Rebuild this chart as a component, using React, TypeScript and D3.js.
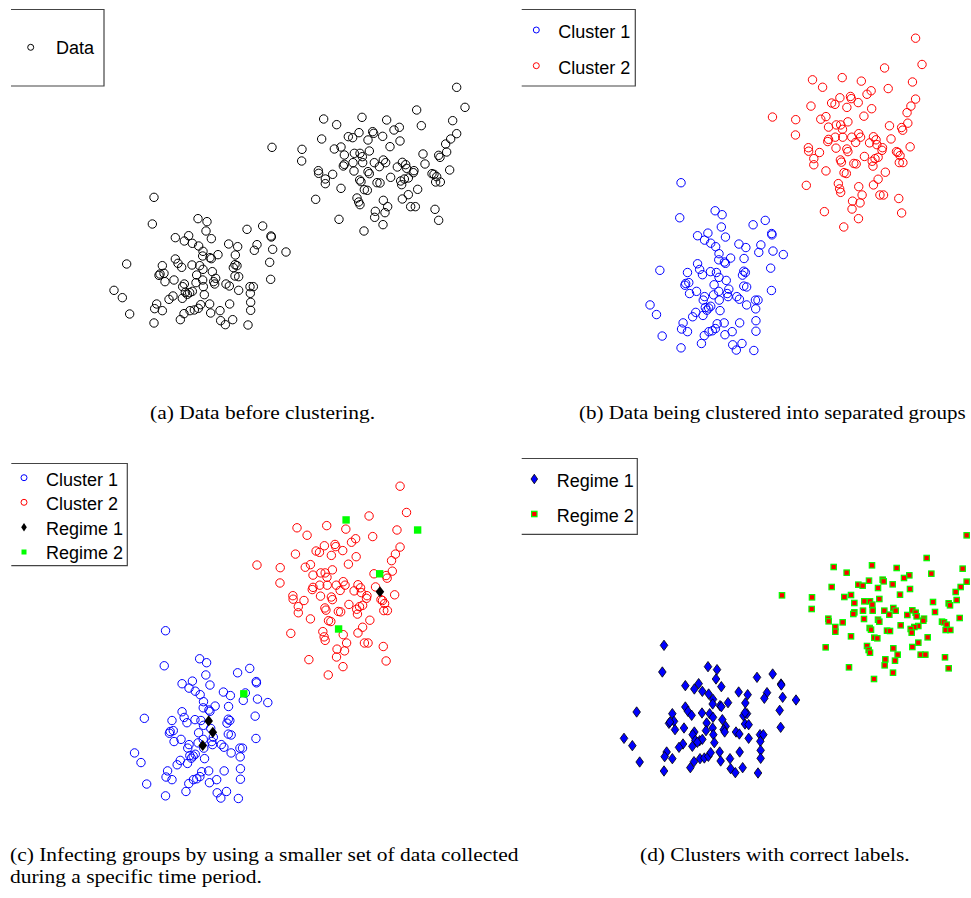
import React, { useRef, useEffect } from "react";
import { select, scaleLinear } from "d3";

// points (arbitrary units, same data in every panel)
const clusterOne: [number, number][] = [
  [462, 408], [457, 328], [594, 344], [621, 335], [618, 307], [634, 284], [526, 287], [566, 293],
  [553, 277], [577, 270], [596, 262], [741, 312], [788, 322], [813, 292], [814, 289], [686, 268],
  [713, 260], [771, 266], [763, 249], [818, 252], [858, 244], [609, 246], [608, 232], [630, 227],
  [654, 236], [706, 235], [634, 224], [380, 208], [487, 203], [526, 223], [534, 210], [545, 198],
  [576, 205], [599, 203], [609, 192], [700, 197], [711, 203], [705, 206], [809, 213], [492, 180],
  [477, 174], [480, 178], [495, 155], [522, 160], [590, 175], [637, 185], [647, 165], [641, 155],
  [644, 148], [608, 160], [588, 152], [610, 140], [553, 148], [548, 140], [678, 148], [688, 142],
  [705, 172], [716, 170], [812, 162], [750, 140], [760, 140], [716, 129], [751, 120], [556, 123],
  [569, 122], [577, 126], [562, 117], [547, 105], [519, 112], [507, 102], [613, 116], [342, 129],
  [367, 107], [389, 58], [470, 88], [464, 74], [487, 68], [462, 31], [552, 59], [570, 68],
  [583, 70], [595, 75], [602, 86], [629, 88], [632, 61], [660, 68], [689, 88], [752, 93],
  [752, 69], [541, 41], [662, 38], [676, 26], [698, 41], [744, 25],
];

const clusterTwo: [number, number][] = [
  [1370, 738], [1395, 678], [1358, 638], [1370, 599], [1250, 670], [1264, 623], [1086, 648], [1160, 640],
  [971, 643], [1010, 626], [1198, 618], [1182, 610], [1118, 605], [1121, 600], [1077, 602], [1148, 591],
  [1045, 590], [1058, 587], [1104, 580], [1200, 577], [965, 583], [1352, 583], [1337, 568], [816, 558],
  [906, 552], [1003, 553], [1023, 559], [1170, 560], [1108, 547], [1063, 540], [1080, 540], [1033, 535],
  [1087, 530], [1088, 512], [1340, 544], [1269, 538], [1316, 534], [1320, 528], [905, 517], [1150, 520],
  [1157, 512], [1123, 512], [1059, 512], [1033, 507], [1030, 502], [1138, 500], [1192, 499], [1207, 513],
  [1217, 506], [1220, 495], [1275, 508], [1062, 487], [1104, 485], [1108, 479], [1242, 488], [1240, 482],
  [955, 488], [956, 480], [998, 477], [976, 463], [976, 449], [1172, 468], [1225, 466], [1213, 463],
  [1202, 457], [1205, 446], [1296, 479], [1302, 477], [1310, 470], [1307, 454], [1321, 454], [1349, 490],
  [1079, 460], [1083, 455], [1131, 452], [1140, 451], [1093, 431], [1102, 429], [1023, 435], [1253, 432],
  [947, 402], [1071, 406], [1076, 394], [1080, 386], [1150, 399], [1163, 380], [1155, 362], [1126, 366],
  [1124, 348], [1149, 326], [1207, 403], [1225, 416], [1232, 380], [1246, 380], [1305, 372], [1316, 339],
  [1017, 342], [1092, 307],
];

// samples collected during a specific time period (panel c)
const regimeOneSample: [number, number][] = [[1292, 497], [629, 202], [645, 176], [606, 146]];
const regimeTwoSample: [number, number][] = [[1161, 661], [1438, 638], [1291, 538], [1132, 412], [765, 264]];

const captions = [
  "(a) Data before clustering.",
  "(b) Data being clustered into separated groups",
  "(c) Infecting groups by using a smaller set of data collected",
  "during a specific time period.",
  "(d) Clusters with correct labels.",
];

const legendA = ["Data"];
const legendB = ["Cluster 1", "Cluster 2"];
const legendC = ["Cluster 1", "Cluster 2", "Regime 1", "Regime 2"];
const legendD = ["Regime 1", "Regime 2"];

const diamond = (w: number, h: number) => `M0,${-h}L${w},0L0,${h}L${-w},0Z`;

function App() {
  const svgRef = useRef<SVGSVGElement>(null);

  useEffect(() => {
    const svg = select(svgRef.current);
    svg.selectAll("*").remove();

    // each panel has its own axis limits
    const xA = scaleLinear().domain([0, 1470]).range([0, 490]);
    const yA = scaleLinear().domain([0, 1000]).range([333.33, 0]);
    const xB = scaleLinear().domain([0, 1000]).range([561.7, 820.0]);
    const yB = scaleLinear().domain([0, 1000]).range([361.44, -76.56]);
    const xC = scaleLinear().domain([0, 1000]).range([46.2, 304.5]);
    const yC = scaleLinear().domain([0, 1000]).range([809.44, 371.44]);
    const xD = scaleLinear().domain([0, 1470]).range([510, 1000]);
    const yD = scaleLinear().domain([0, 1000]).range([781.33, 448]);

    const circles = (g: any, data: [number, number][], xs: any, ys: any, color: string, cls: string) =>
      g.selectAll("." + cls)
        .data(data)
        .join("circle")
        .attr("class", cls)
        .attr("cx", (d: [number, number]) => xs(d[0]))
        .attr("cy", (d: [number, number]) => ys(d[1]))
        .attr("r", 4.2)
        .attr("fill", "none")
        .attr("stroke", color)
        .attr("stroke-width", 1);

    const legendBox = (x0: number, y0: number, x1: number, y1: number) =>
      svg.append("path")
        .attr("d", `M${x0},${y0}H${x1}V${y1}H${x0}`)
        .attr("fill", "none")
        .attr("stroke", "#444")
        .attr("stroke-width", 1.2);

    const legendText = (labels: string[], x: number, y0: number, step: number) =>
      svg.append("g")
        .selectAll("text")
        .data(labels)
        .join("text")
        .attr("x", x)
        .attr("y", (d, i) => y0 + i * step)
        .attr("font-family", "Liberation Sans, Arial, sans-serif")
        .attr("font-size", 18)
        .attr("fill", "#000")
        .text((d) => d);

    // (a)
    const gA = svg.append("g");
    circles(gA, clusterOne.concat(clusterTwo), xA, yA, "#000", "ptA");
    legendBox(11, 9.5, 104, 86);
    svg.append("circle").attr("cx", 30.7).attr("cy", 47.3).attr("r", 3).attr("fill", "none").attr("stroke", "#000");
    legendText(legendA, 56, 54, 0);

    // (b)
    const gB = svg.append("g");
    circles(gB, clusterOne, xB, yB, "#0000ff", "ptB1");
    circles(gB, clusterTwo, xB, yB, "#ff0000", "ptB2");
    legendBox(521.7, 9.5, 635.3, 86);
    ["#0000ff", "#ff0000"].forEach((c, i) =>
      svg.append("circle").attr("cx", 536.3).attr("cy", 30 + i * 35.7).attr("r", 3).attr("fill", "none").attr("stroke", c)
    );
    legendText(legendB, 558.3, 38, 35.5);

    // (c)
    const gC = svg.append("g");
    circles(gC, clusterOne, xC, yC, "#0000ff", "ptC1");
    circles(gC, clusterTwo, xC, yC, "#ff0000", "ptC2");
    gC.selectAll(".r1")
      .data(regimeOneSample)
      .join("path")
      .attr("class", "r1")
      .attr("d", diamond(4.3, 5.6))
      .attr("transform", (d) => `translate(${xC(d[0])},${yC(d[1])})`)
      .attr("fill", "#000");
    gC.selectAll(".r2")
      .data(regimeTwoSample)
      .join("rect")
      .attr("class", "r2")
      .attr("x", (d) => xC(d[0]) - 3.7)
      .attr("y", (d) => yC(d[1]) - 3.7)
      .attr("width", 7.4)
      .attr("height", 7.4)
      .attr("fill", "#00ff00");
    legendBox(11.3, 463.5, 127.3, 565.7);
    svg.append("circle").attr("cx", 24).attr("cy", 477.7).attr("r", 3).attr("fill", "none").attr("stroke", "#0000ff");
    svg.append("circle").attr("cx", 24).attr("cy", 502.3).attr("r", 3).attr("fill", "none").attr("stroke", "#ff0000");
    svg.append("path").attr("d", diamond(2.8, 4.2)).attr("transform", "translate(24,527.3)").attr("fill", "#000");
    svg.append("rect").attr("x", 21.5).attr("y", 549.5).attr("width", 5).attr("height", 5).attr("fill", "#00ff00");
    legendText(legendC, 46, 485.5, 24.6);

    // (d)
    const gD = svg.append("g");
    gD.selectAll(".d1")
      .data(clusterOne)
      .join("path")
      .attr("class", "d1")
      .attr("d", diamond(3.8, 5.2))
      .attr("transform", (d) => `translate(${xD(d[0])},${yD(d[1])})`)
      .attr("fill", "#0000ff")
      .attr("stroke", "#000")
      .attr("stroke-width", 0.8);
    gD.selectAll(".d2")
      .data(clusterTwo)
      .join("rect")
      .attr("class", "d2")
      .attr("x", (d) => xD(d[0]) - 2.7)
      .attr("y", (d) => yD(d[1]) - 2.7)
      .attr("width", 5.4)
      .attr("height", 5.4)
      .attr("fill", "#ff0000")
      .attr("stroke", "#00ff00")
      .attr("stroke-width", 1.2);
    legendBox(521.7, 458.5, 637.3, 534.3);
    svg.append("path").attr("d", diamond(3.3, 4.8)).attr("transform", "translate(534.3,479)")
      .attr("fill", "#0000ff").attr("stroke", "#000").attr("stroke-width", 0.8);
    svg.append("rect").attr("x", 531.6).attr("y", 511.3).attr("width", 5.4).attr("height", 5.4)
      .attr("fill", "#ff0000").attr("stroke", "#00ff00").attr("stroke-width", 1.2);
    legendText(legendD, 556.7, 486.5, 35);

    // captions (the printed figure is stretched a little horizontally)
    const cap = [
      { t: captions[0], x: 150, y: 419, s: 1.16 },
      { t: captions[1], x: 579, y: 419, s: 1.135 },
      { t: captions[2], x: 10, y: 861, s: 1.16 },
      { t: captions[3], x: 10, y: 883, s: 1.16 },
      { t: captions[4], x: 640, y: 861, s: 1.16 },
    ];
    svg.append("g")
      .selectAll("text")
      .data(cap)
      .join("text")
      .attr("transform", (d) => `translate(${d.x},${d.y}) scale(${d.s},1)`)
      .attr("font-family", "Liberation Serif, Times New Roman, serif")
      .attr("font-size", 18.5)
      .attr("fill", "#000")
      .text((d) => d.t);
  }, []);

  return (
    <svg
      ref={svgRef}
      width={971}
      height={898}
      style={{ position: "absolute", left: 0, top: 0, background: "#fff" }}
    />
  );
}

export default App;
